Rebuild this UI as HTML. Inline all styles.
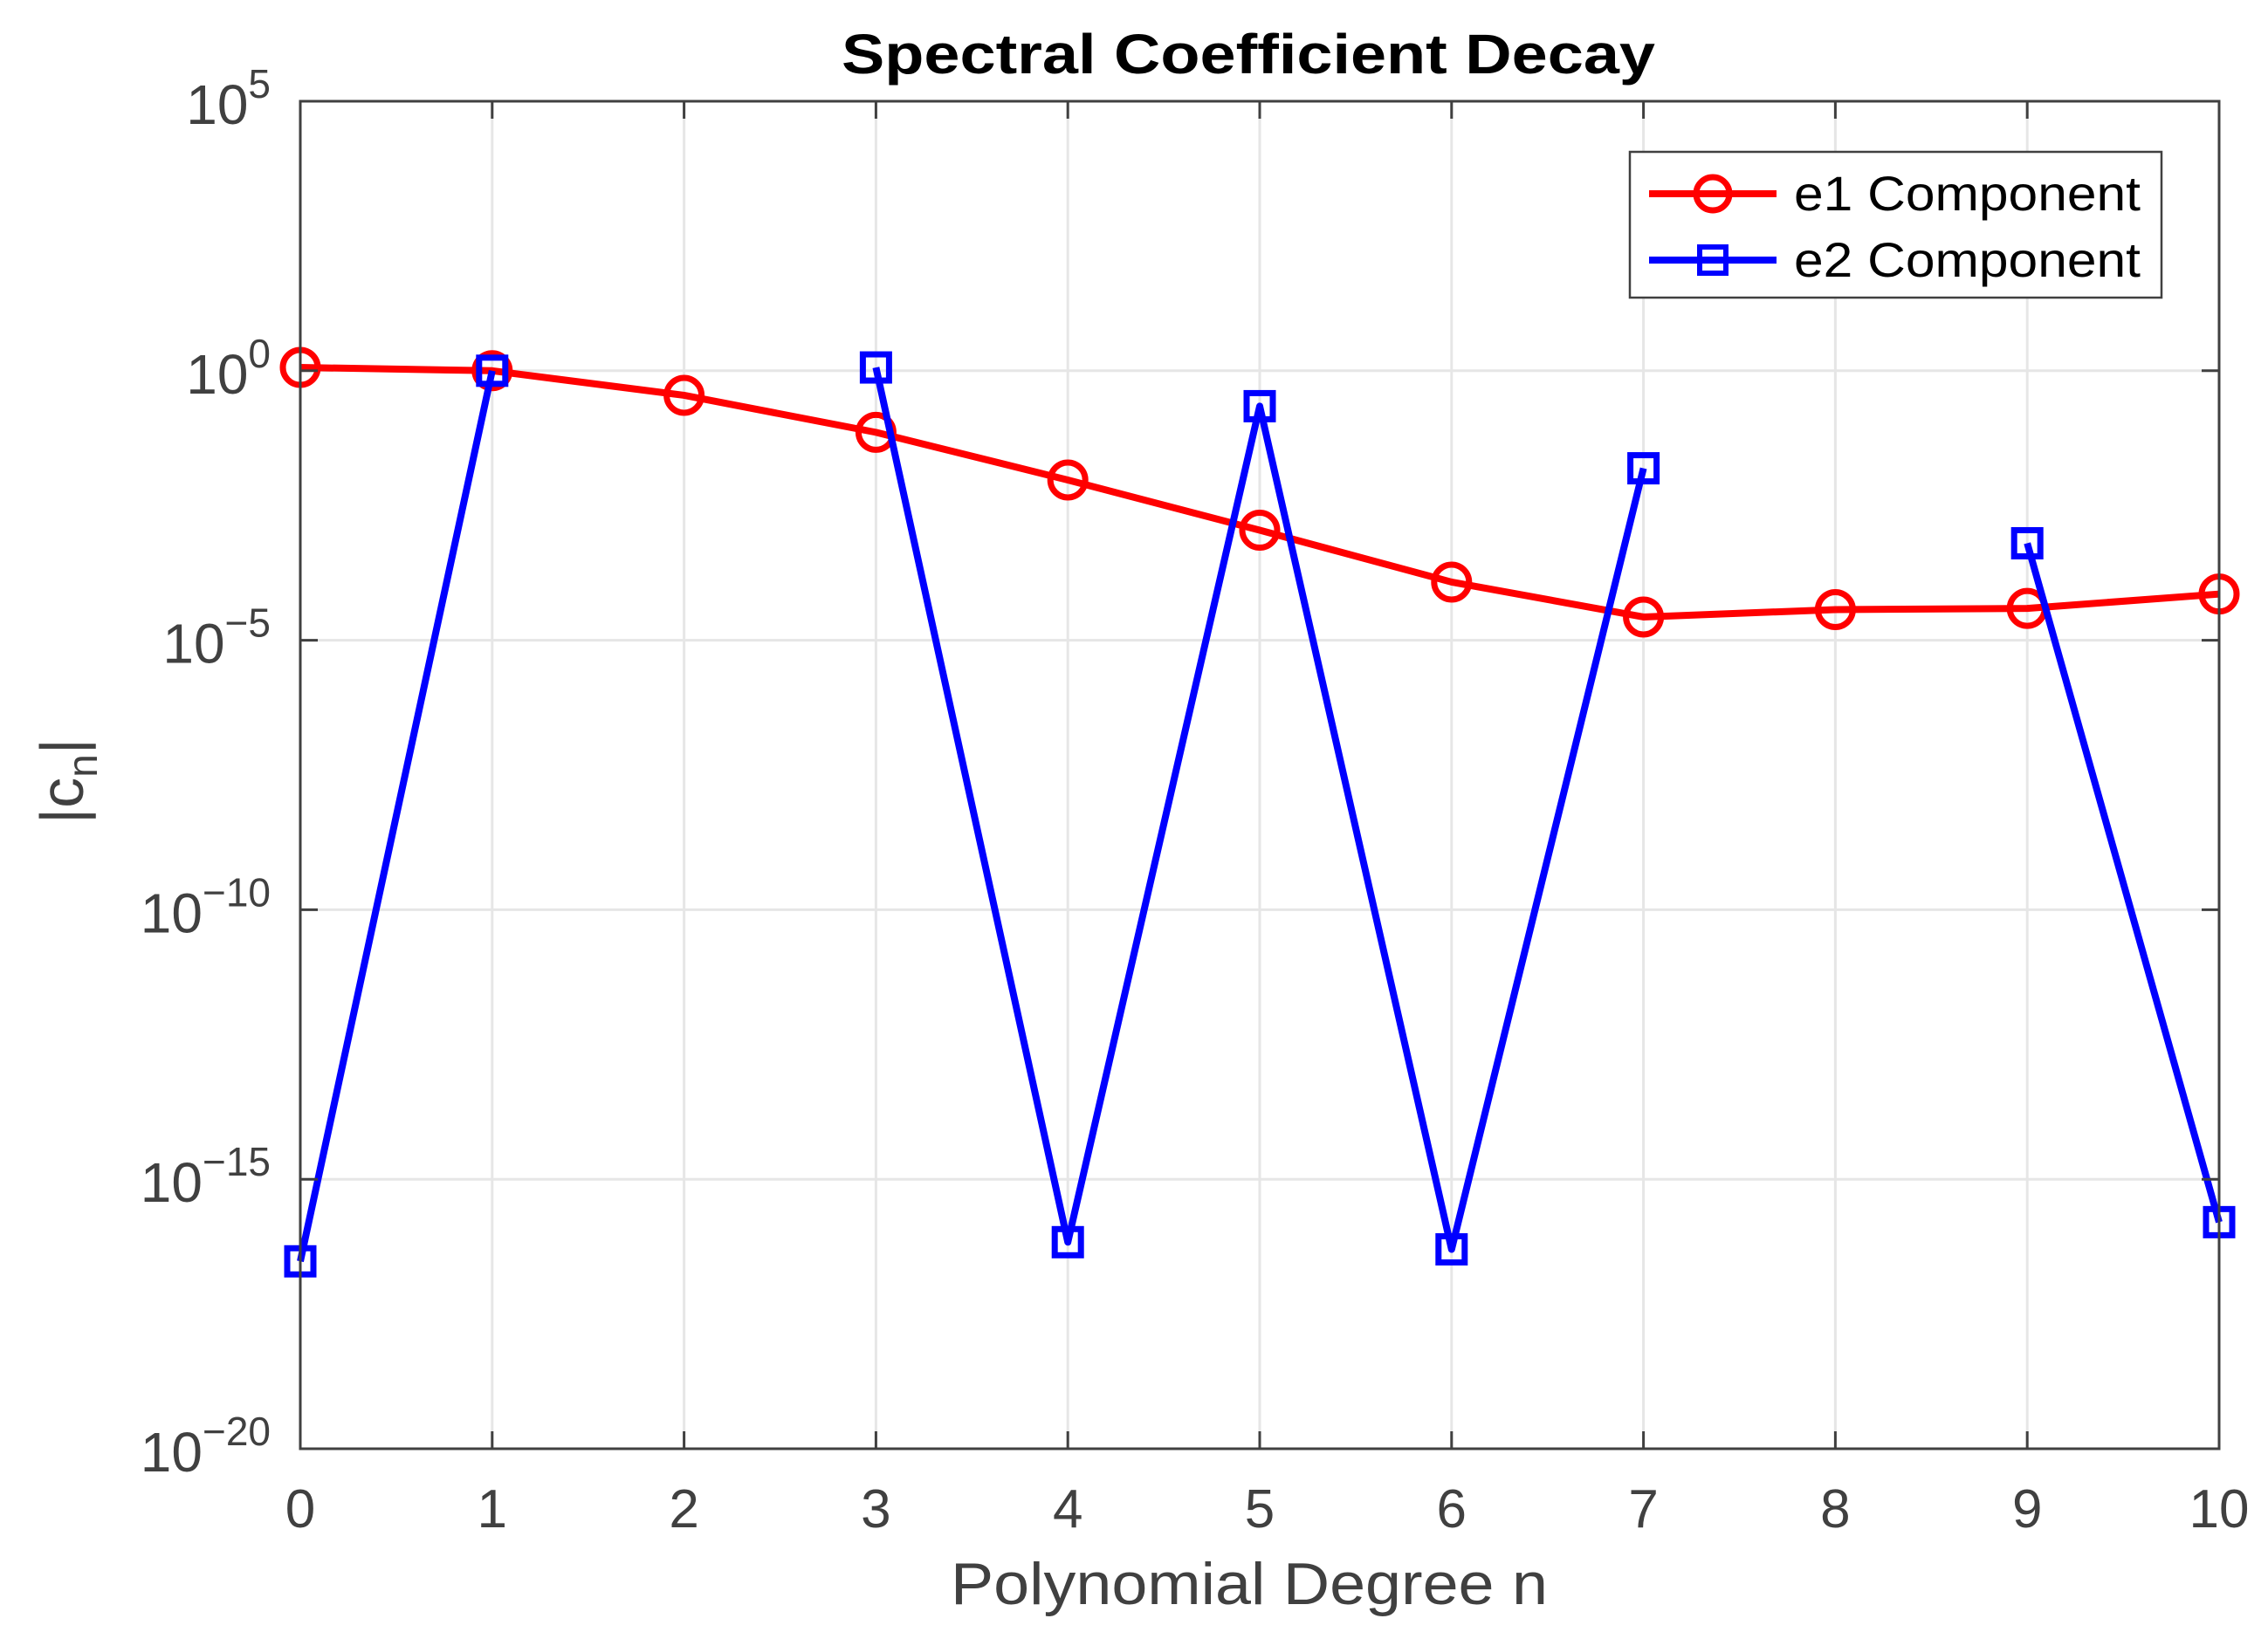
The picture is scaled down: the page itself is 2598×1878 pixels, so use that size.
<!DOCTYPE html>
<html><head><meta charset="utf-8"><style>
html,body{margin:0;padding:0;background:#fff}
svg{display:block;font-family:"Liberation Sans",Arial,sans-serif}
</style></head><body>
<svg id="chart" width="2598" height="1878" viewBox="0 0 2598 1878">
<rect width="2598" height="1878" fill="#fff"/>
<g id="grid"></g>
<g id="series"></g>
<rect x="344" y="116" width="2198" height="1544" fill="none" stroke="#404040" stroke-width="3"/>
<g id="ticks"></g>
<text x="964" y="84" textLength="932" lengthAdjust="spacingAndGlyphs" font-size="64" font-weight="bold" fill="#000">Spectral Coefficient Decay</text>
<text x="1089" y="1838" textLength="684" lengthAdjust="spacingAndGlyphs" font-size="68" fill="#404040">Polynomial Degree n</text>
<text transform="translate(95,895) rotate(-90)" text-anchor="middle" font-size="70" fill="#404040">|c<tspan font-size="48" dy="16">n</tspan><tspan dy="-16">|</tspan></text>
<g>
<rect x="1867" y="174" width="609" height="167" fill="#fff" stroke="#404040" stroke-width="2.5"/>
<g>
<line x1="1889" y1="222" x2="2035" y2="222" stroke="#ff0000" stroke-width="8"/>
<circle cx="1962" cy="222" r="19" fill="none" stroke="#ff0000" stroke-width="7"/>
<text x="2055" y="241" textLength="397" lengthAdjust="spacingAndGlyphs" font-size="56" fill="#000">e1 Component</text>
</g>
<g>
<line x1="1889" y1="298" x2="2035" y2="298" stroke="#0000ff" stroke-width="8"/>
<rect x="1947" y="283" width="30" height="30" fill="none" stroke="#0000ff" stroke-width="6"/>
<text x="2055" y="317" textLength="397" lengthAdjust="spacingAndGlyphs" font-size="56" fill="#000">e2 Component</text>
</g>
</g>
</svg>
<script>
const xTicks = [0,1,2,3,4,5,6,7,8,9,10];
const yTickExps = [5,0,-5,-10,-15,-20];
const degrees = [0,1,2,3,4,5,6,7,8,9,10];
const e1Values = [1.15,1.0,0.35,0.072,0.0094,0.0011,1.2e-4,2.7e-5,3.7e-5,3.9e-5,7.2e-5];
const e2Values = [3e-17,1.0,null,1.15,6.8e-17,0.22,5e-17,0.0155,null,6.3e-4,1.6e-16];

const NS = "http://www.w3.org/2000/svg";
const L=344,R=2542,T=116,B=1660;
function xs(v){return L+(v-0)/(10-0)*(R-L);}
function ys(v){const e=Math.log10(v);return T+(5-e)/(5-(-20))*(B-T);}
function mk(tag,attrs,parent){const el=document.createElementNS(NS,tag);for(const k in attrs)el.setAttribute(k,attrs[k]);parent.appendChild(el);return el;}

const grid=document.getElementById('grid'),ticks=document.getElementById('ticks'),series=document.getElementById('series');
xTicks.forEach(t=>{
  const x=xs(t);
  const g=mk('line',{x1:x,y1:T,x2:x,y2:B,stroke:'#e6e6e6','stroke-width':3},grid);
  
  
  mk('line',{x1:x,y1:B,x2:x,y2:B-20,stroke:'#404040','stroke-width':3},ticks);
  mk('line',{x1:x,y1:T,x2:x,y2:T+20,stroke:'#404040','stroke-width':3},ticks);
  const lb=mk('text',{x:x,y:1750,'text-anchor':'middle','font-size':62,fill:'#404040'},ticks);
  lb.textContent=t;
  
  
});
yTickExps.forEach(e=>{
  const y=ys(Math.pow(10,e));
  const g=mk('line',{x1:L,y1:y,x2:R,y2:y,stroke:'#e6e6e6','stroke-width':3},grid);
  
  
  mk('line',{x1:L,y1:y,x2:L+20,y2:y,stroke:'#404040','stroke-width':3},ticks);
  mk('line',{x1:R,y1:y,x2:R-20,y2:y,stroke:'#404040','stroke-width':3},ticks);
  const lb=mk('text',{x:310,y:y+26,'text-anchor':'end','font-size':64,fill:'#404040'},ticks);
  
  
  const base=document.createElementNS(NS,'tspan');base.textContent='10';lb.appendChild(base);
  const sup=document.createElementNS(NS,'tspan');sup.setAttribute('font-size','46');sup.setAttribute('dy','-30');
  sup.textContent=(e<0?'\u2212':'')+Math.abs(e);lb.appendChild(sup);
});

function drawSeries(vals,color,name){
  let segs=[],cur=[];
  vals.forEach((v,i)=>{if(v===null){if(cur.length)segs.push(cur);cur=[];}else cur.push([xs(degrees[i]),ys(v)]);});
  if(cur.length)segs.push(cur);
  segs.forEach(s=>{if(s.length>1){
    const p=mk('polyline',{points:s.map(q=>q.join(',')).join(' '),fill:'none',stroke:color,'stroke-width':8,'stroke-linejoin':'round'},series);
    
    
  }});
  vals.forEach((v,i)=>{
    if(v===null)return;
    const x=xs(degrees[i]),y=ys(v);
    let m;
    if(name==='e1') m=mk('circle',{cx:x,cy:y,r:20,fill:'none',stroke:color,'stroke-width':7},series);
    else m=mk('rect',{x:x-15,y:y-15,width:30,height:30,fill:'none',stroke:color,'stroke-width':7},series);
    
    
  });
}
drawSeries(e1Values,'#ff0000','e1');
drawSeries(e2Values,'#0000ff','e2');
</script>
</body></html>
